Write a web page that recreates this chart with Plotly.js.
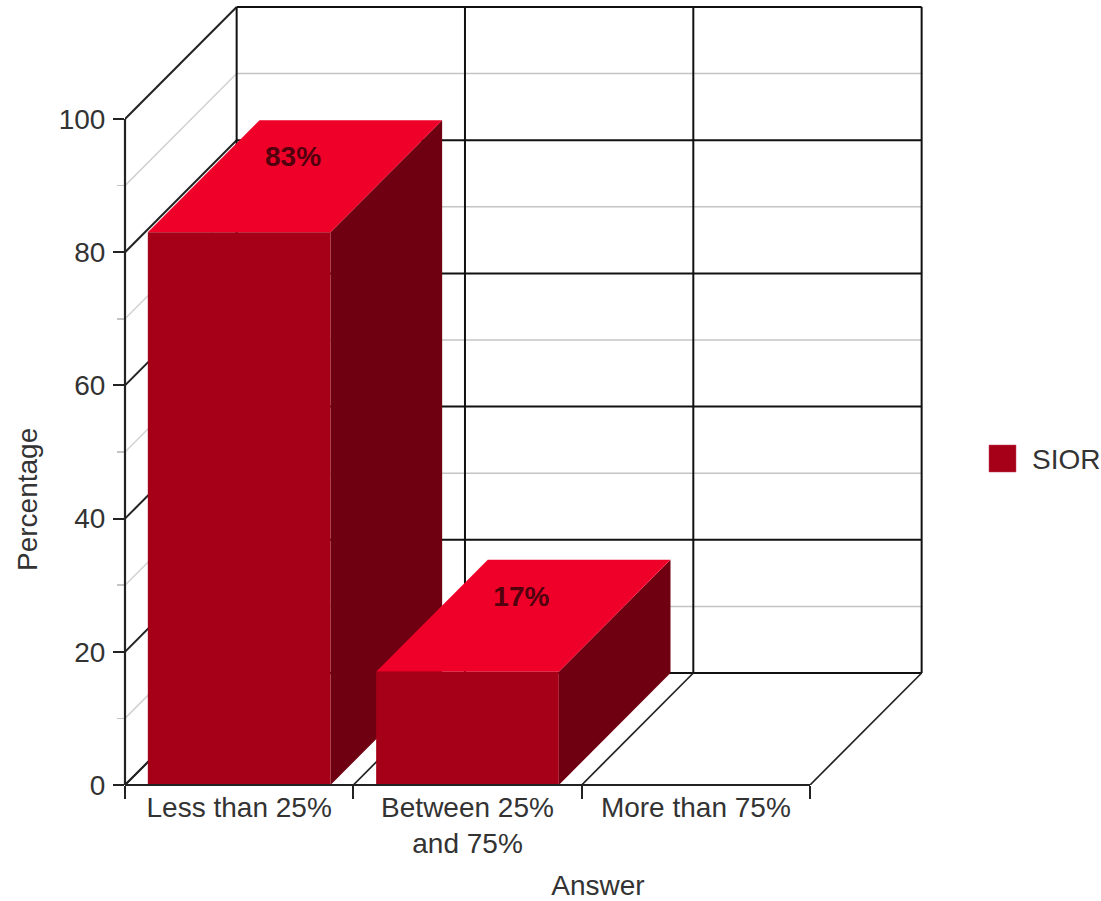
<!DOCTYPE html>
<html>
<head>
<meta charset="utf-8">
<title>Percentage by answer</title>
<script src="https://cdn.plot.ly/plotly-3.0.1.min.js"></script>
<style>html,body{margin:0;padding:0;background:#fff;overflow:hidden}#chart{width:1101px;height:901px}</style>
</head>
<body>
<div id="chart"></div>
<script>
// Chart content
const categories = ["Less than 25%", "Between 25%<br>and 75%", "More than 75%"];
const seriesName = "SIOR";
const xTitle = "Answer";
const yTitle = "Percentage";
const values = [83, 17, 0];
const valueLabels = ["83%", "17%", ""];
const majorTicks = [0, 20, 40, 60, 80, 100];
const minorTicks = [10, 30, 50, 70, 90];

// Oblique projection: the depth of the box expressed in axis units
const depthX = 0.489;
const depthY = 16.82;
const barPad = 0.1;

const colFront = "#a60019", colTop = "#ee0029", colSide = "#6f0011";
const textColor = "#333333", font = "Liberation Sans, Arial, sans-serif";
const textSize = 28;
const positions = categories.map((_, i) => i);
const edges = positions.concat(categories.length);
const xMax = categories.length;

// Plot geometry and the scales that follow from it
const plotLeft = 125, plotWidth = 946, plotHeight = 780;
const plotBottom = 785, pxPerUnit = 6.66, pxPerCategory = 228.33;
const xRangeMax = plotWidth / pxPerCategory, yRangeMax = plotHeight / pxPerUnit;
const paperX = px => (px - plotLeft) / plotWidth;
const dataY = py => (plotBottom - py) / pxPerUnit;

function line(x0, y0, x1, y1, color, width) {
  return {type: "line", xref: "x", yref: "y", x0, y0, x1, y1,
          layer: "below", line: {color, width}};
}

// Walls and floor of the box
const shapes = [];
minorTicks.forEach(v => {
  shapes.push(line(depthX, v + depthY, xMax + depthX, v + depthY, "#c4c4c4", 1.5));
  shapes.push(line(0, v, depthX, v + depthY, "#d2d2d2", 1.5));
});
majorTicks.forEach(v => {
  shapes.push(line(depthX, v + depthY, xMax + depthX, v + depthY, "#111", 2));
  shapes.push(line(0, v, depthX, v + depthY, "#222", 2));
});
edges.forEach(e => {
  shapes.push(line(e + depthX, depthY, e + depthX, 100 + depthY, "#111", 2));
  shapes.push(line(e, 0, e + depthX, depthY, "#222", 1.7));
});

// Front axis lines use paper references so the plot edge does not clip them
function axisLine(x0, y0, x1, y1) {
  return {type: "line", xref: "paper", yref: "paper", layer: "above",
          x0: x0 / xRangeMax, y0: y0 / yRangeMax, x1: x1 / xRangeMax, y1: y1 / yRangeMax,
          line: {color: "#222", width: 2.2}};
}
shapes.push(axisLine(0, 0, xMax, 0));
shapes.push(axisLine(0, 0, 0, 100));

// Each bar is three filled faces, drawn left to right so nearer bars overlap
function face(xs, ys, color) {
  return {type: "scatter", mode: "lines", x: xs, y: ys, fill: "toself", fillcolor: color,
          line: {width: 0, color}, hoverinfo: "skip", name: seriesName, showlegend: false};
}
const traces = [];
positions.forEach((p, i) => {
  const v = values[i];
  if (!v) return;
  const l = p + barPad, r = p + 1 - barPad;
  traces.push(face([r, r + depthX, r + depthX, r, r], [0, depthY, v + depthY, v, 0], colSide));
  traces.push(face([l, r, r + depthX, l + depthX, l], [v, v, v + depthY, v + depthY, v], colTop));
  traces.push(face([l, r, r, l, l], [0, 0, v, v, 0], colFront));
});

// Value labels printed on the top faces
traces.push({
  type: "scatter", mode: "text",
  x: positions.filter(i => values[i] > 0).map(p => p + 0.5 + 0.236),
  y: values.filter(v => v > 0).map(v => v + 11),
  text: valueLabels.filter(t => t),
  textposition: "middle center",
  textfont: {family: font, size: 28, color: "#52000e", weight: 700},
  hoverinfo: "skip", showlegend: false
});

// Legend swatch placed to the right of the box
shapes.push({type: "rect", xref: "paper", yref: "y",
  x0: paperX(989), x1: paperX(1016), y0: dataY(472), y1: dataY(445),
  fillcolor: colFront, line: {color: "#c0405a", width: 0.5}, layer: "above"});

const titleFont = {family: font, size: textSize, color: textColor};
const layout = {
  width: 1101, height: 901,
  margin: {l: plotLeft, r: 30, t: 5, b: 116},
  paper_bgcolor: "#fff", plot_bgcolor: "#fff",
  showlegend: false,
  font: {family: font, size: textSize, color: textColor},
  xaxis: {
    range: [0, xRangeMax],
    tickmode: "array",
    tickvals: positions.map(p => p + 0.5),
    ticktext: categories,
    ticks: "",
    ticklabelstandoff: 3,
    showgrid: false, zeroline: false, showline: false,
    tickfont: titleFont,
    title: {text: xTitle, font: titleFont, standoff: 27},
    minor: {tickmode: "array", tickvals: edges, ticks: "outside", ticklen: 13, tickwidth: 2, tickcolor: "#222", showgrid: false}
  },
  yaxis: {
    range: [0, yRangeMax],
    tickmode: "array",
    tickvals: majorTicks,
    ticks: "outside", ticklen: 11, tickwidth: 2, tickcolor: "#222",
    ticklabelstandoff: 2,
    showgrid: false, zeroline: false, showline: false,
    tickfont: titleFont,
    minor: {tickmode: "array", tickvals: minorTicks, ticks: "outside", ticklen: 7, tickwidth: 1.5, tickcolor: "#c4c4c4", showgrid: false}
  },
  shapes,
  annotations: [
    {xref: "paper", yref: "y", x: paperX(1030), y: dataY(459), xanchor: "left", yanchor: "middle",
     text: seriesName, showarrow: false, font: titleFont},
    {xref: "paper", yref: "y", x: paperX(27), y: dataY(500), xanchor: "center", yanchor: "middle",
     text: yTitle, textangle: -90, showarrow: false, font: titleFont}
  ]
};

Plotly.newPlot("chart", traces, layout, {displayModeBar: false, staticPlot: true});
</script>
</body>
</html>
